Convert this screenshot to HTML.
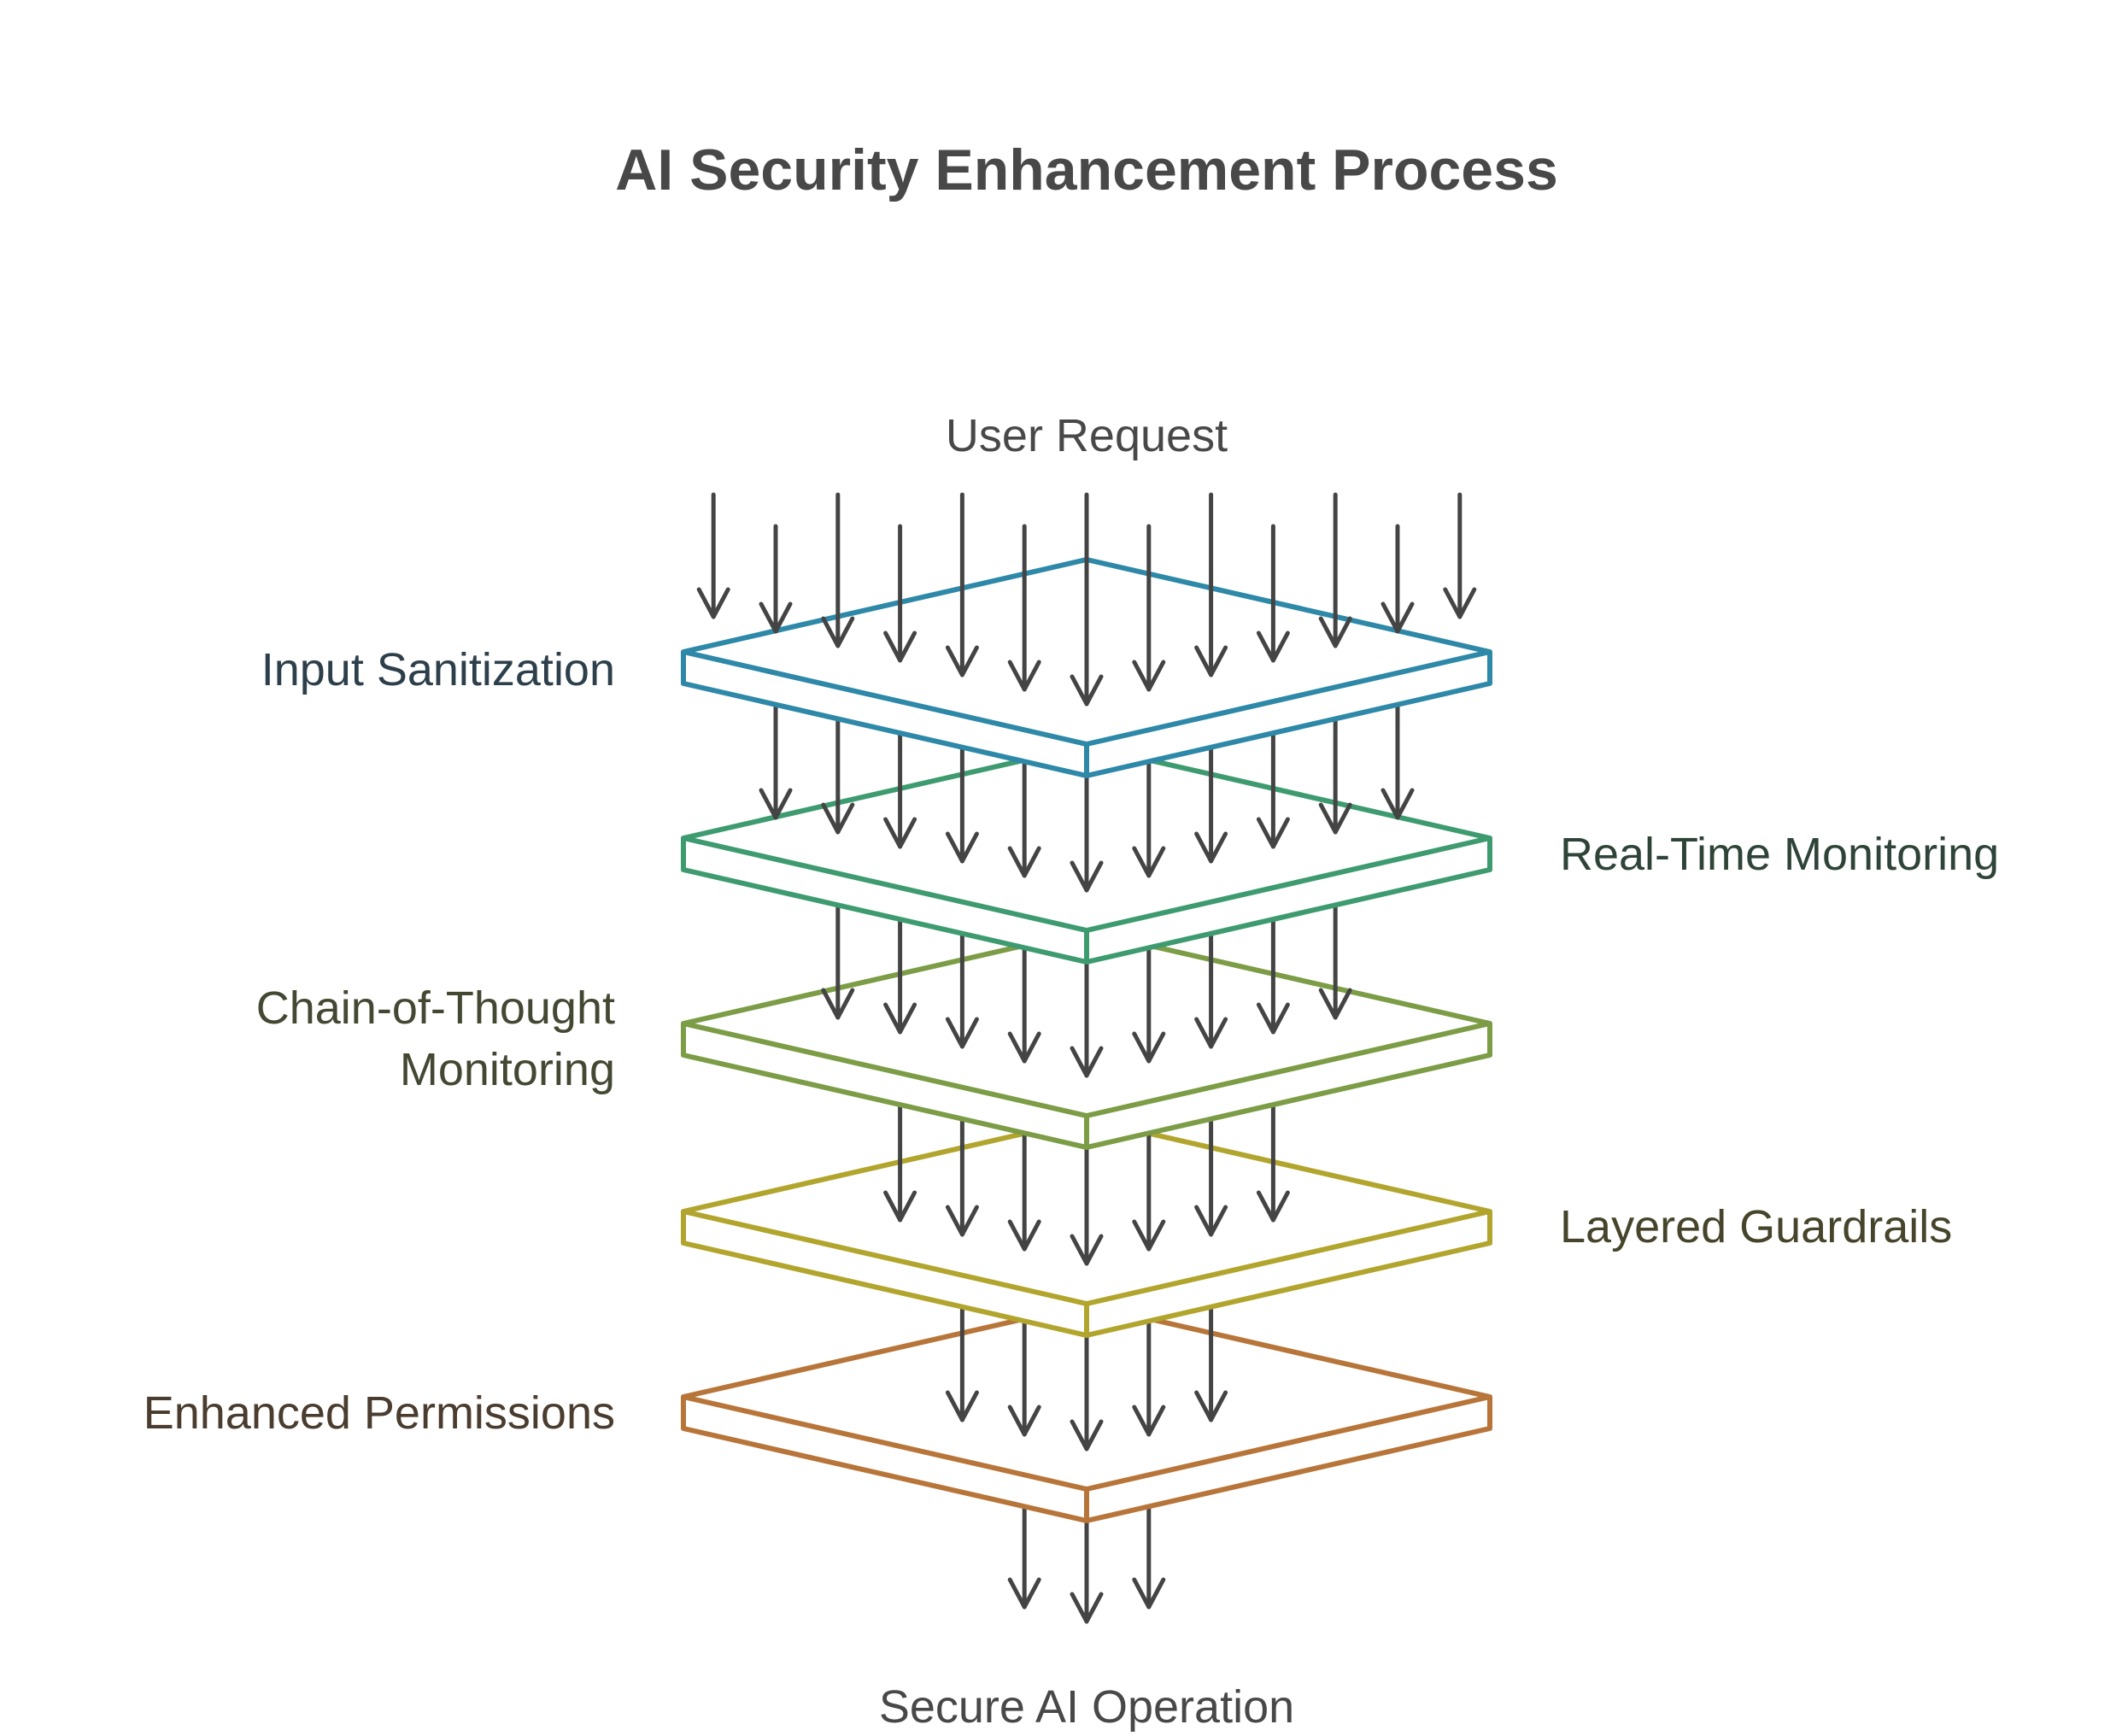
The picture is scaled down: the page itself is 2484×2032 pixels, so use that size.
<!DOCTYPE html>
<html><head><meta charset="utf-8"><style>
html,body{margin:0;padding:0;background:#fff;}
svg{display:block;}
text{font-family:"Liberation Sans",sans-serif;}
</style></head><body>
<svg id="s" width="2484" height="2032" viewBox="0 0 2484 2032" xmlns="http://www.w3.org/2000/svg">
<rect width="2484" height="2032" fill="#fff"/>
<text x="1272" y="222" text-anchor="middle" font-size="68" font-weight="bold" fill="#484848">AI Security Enhancement Process</text>
<text x="1272" y="528" text-anchor="middle" font-size="54" fill="#484848">User Request</text>
<text x="720" y="802" text-anchor="end" font-size="54" fill="#2d3f4a">Input Sanitization</text>
<text x="1826" y="1018" font-size="54" fill="#2f4439">Real-Time Monitoring</text>
<text x="720" y="1198" text-anchor="end" font-size="54" fill="#434832">Chain-of-Thought</text>
<text x="720" y="1270" text-anchor="end" font-size="54" fill="#434832">Monitoring</text>
<text x="1826" y="1454" font-size="54" fill="#46442a">Layered Guardrails</text>
<text x="720" y="1672" text-anchor="end" font-size="54" fill="#4a3c2e">Enhanced Permissions</text>
<text x="1272" y="2016" text-anchor="middle" font-size="54" fill="#484848">Secure AI Operation</text>
<g id="g"></g>
</svg>
<script>
var NS="http://www.w3.org/2000/svg",g=document.getElementById('g');
var cx=1272,hw=472,hh=108,th=37,sp=72.8;
var sides=[763,981,1198,1418,1635];
var cols=["#2E88A8","#3E9B70","#7C9C46","#B2A52E","#B8753A"];
function el(n,a){var e=document.createElementNS(NS,n);for(var k in a)e.setAttribute(k,a[k]);g.appendChild(e);return e;}
function arrow(x,y1,y2){
 el('line',{x1:x,y1:y1,x2:x,y2:y2,stroke:'#444',"stroke-width":5,"stroke-linecap":"round"});
 el('polyline',{points:(x-17)+','+(y2-32)+' '+x+','+y2+' '+(x+17)+','+(y2-32),fill:'none',stroke:'#444',"stroke-width":5,"stroke-linecap":"round","stroke-linejoin":"round"});
}
function slab(i){
 var s=sides[i],c=cols[i],L=cx-hw,R=cx+hw;
 el('polygon',{points:L+','+s+' '+cx+','+(s-hh)+' '+R+','+s+' '+R+','+(s+th)+' '+cx+','+(s+hh+th)+' '+L+','+(s+th),fill:'#fff',stroke:c,"stroke-width":6,"stroke-linejoin":"round"});
 el('polyline',{points:L+','+s+' '+cx+','+(s+hh)+' '+R+','+s,fill:'none',stroke:c,"stroke-width":6,"stroke-linejoin":"round"});
 el('line',{x1:cx,y1:s+hh,x2:cx,y2:s+hh+th,stroke:c,"stroke-width":6});
}
// final arrows
[-1,0,1].forEach(function(k){arrow(cx+k*sp,sides[4],1898-Math.abs(k)*17);});
for(var i=4;i>=0;i--){
 slab(i);
 var n=6-i;
 for(var k=-n;k<=n;k++){
  var x=cx+k*sp,tip=sides[i]+61-Math.abs(k)*17,start;
  if(i==0)start=(Math.abs(k)%2==0)?579:616;else start=sides[i-1];
  arrow(x,start,tip);
 }
}
</script>
</body></html>
